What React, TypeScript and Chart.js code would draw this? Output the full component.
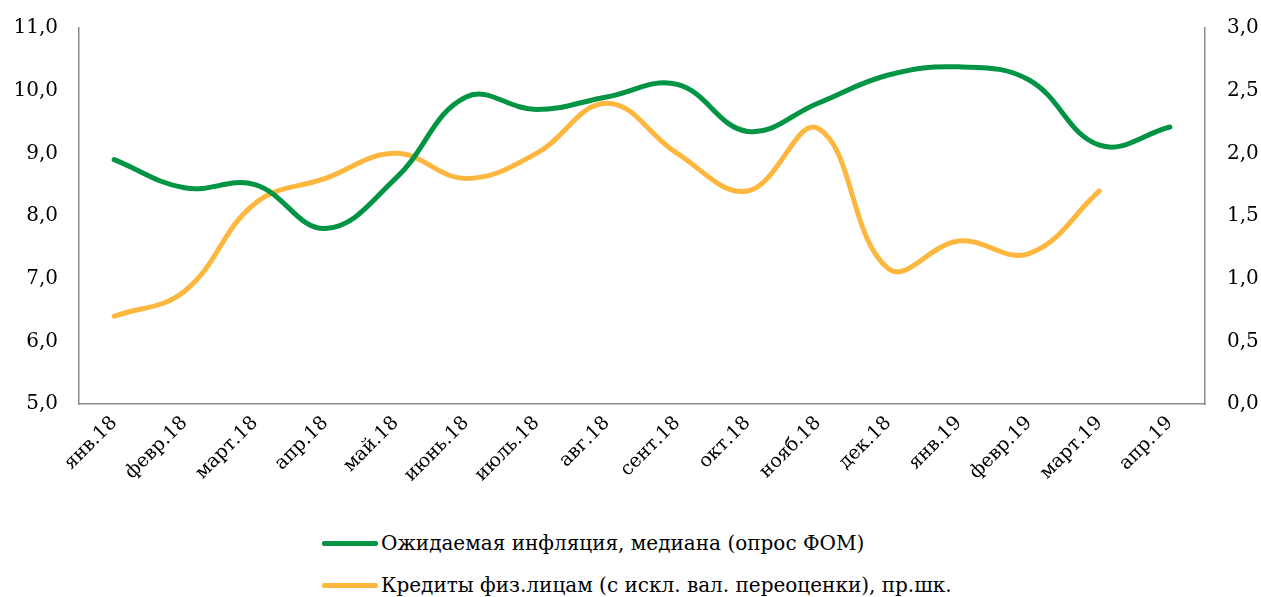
import React, { useEffect, useRef } from "react";
import { Chart, registerables } from "chart.js";

Chart.register(...registerables);

const categories = [
  "янв.18", "февр.18", "март.18", "апр.18", "май.18", "июнь.18", "июль.18", "авг.18",
  "сент.18", "окт.18", "нояб.18", "дек.18", "янв.19", "февр.19", "март.19", "апр.19",
];
const inflationExpect = [8.9, 8.45, 8.5, 7.8, 8.6, 9.9, 9.7, 9.9, 10.1, 9.35, 9.8, 10.25, 10.38, 10.17, 9.13, 9.42];
const loans = [0.7, 0.9, 1.6, 1.8, 2.0, 1.8, 2.0, 2.4, 2.0, 1.7, 2.2, 1.08, 1.3, 1.2, 1.7, null];

const leftTicks = { min: 5, max: 11, step: 1 };
const rightTicks = { min: 0, max: 3, step: 0.5 };

const seriesNames = [
  "Ожидаемая инфляция, медиана (опрос ФОМ)",
  "Кредиты физ.лицам (с искл. вал. переоценки), пр.шк.",
];
const GREEN = "#009444";
const ORANGE = "#FDB73F";
const AXIS = "#8c8c8c";
const FONT = "'DejaVu Serif', serif";

const fmt = (v: number) => Number(v).toFixed(1).replace(".", ",");

export default function App() {
  const ref = useRef<HTMLCanvasElement | null>(null);
  useEffect(() => {
    if (!ref.current) return;
    const chart = new Chart(ref.current, {
      type: "line",
      data: {
        labels: categories,
        datasets: [
          {
            label: seriesNames[0],
            data: inflationExpect,
            borderColor: GREEN,
            backgroundColor: GREEN,
            borderWidth: 5,
            pointRadius: 0,
            tension: 0.4,
            yAxisID: "y",
            borderCapStyle: "round",
          },
          {
            label: seriesNames[1],
            data: loans,
            borderColor: ORANGE,
            backgroundColor: ORANGE,
            borderWidth: 5,
            pointRadius: 0,
            tension: 0.4,
            yAxisID: "y1",
            borderCapStyle: "round",
          },
        ],
      },
      options: {
        animation: false,
        responsive: false,
        maintainAspectRatio: false,
        layout: { padding: { top: 28, left: 0, right: 0, bottom: 0 } },
        plugins: { legend: { display: false }, tooltip: { enabled: false } },
        scales: {
          x: {
            offset: true,
            grid: { display: true, drawOnChartArea: false, drawTicks: false },
            border: { display: true, color: AXIS, width: 1.5 },
            ticks: {
              maxRotation: 45,
              minRotation: 45,
              autoSkip: false,
              padding: 8,
              color: "#000",
              font: { family: FONT, size: 19 },
            },
            afterFit: (s: any) => { s.height = 86; },
          },
          y: {
            position: "left",
            min: leftTicks.min,
            max: leftTicks.max,
            grid: { display: true, drawOnChartArea: false, drawTicks: true, tickLength: 19, tickColor: "rgba(0,0,0,0)" },
            border: { display: true, color: AXIS, width: 1.5 },
            ticks: {
              stepSize: leftTicks.step,
              padding: 2,
              color: "#000",
              font: { family: FONT, size: 20 },
              callback: (v: any) => fmt(v),
            },
            afterFit: (s: any) => { s.width = 79; },
          },
          y1: {
            position: "right",
            min: rightTicks.min,
            max: rightTicks.max,
            grid: { display: true, drawOnChartArea: false, drawTicks: true, tickLength: 20, tickColor: "rgba(0,0,0,0)" },
            border: { display: true, color: AXIS, width: 1.5 },
            ticks: {
              stepSize: rightTicks.step,
              padding: 2,
              color: "#000",
              font: { family: FONT, size: 20 },
              callback: (v: any) => fmt(v),
            },
            afterFit: (s: any) => { s.width = 56; },
          },
        },
      },
    });
    return () => chart.destroy();
  }, []);

  const legendRow = (color: string, text: string, top: number) => (
    <div style={{ position: "absolute", left: 322, top, display: "flex", alignItems: "center", whiteSpace: "nowrap" }}>
      <div style={{ width: 56, height: 5, background: color, borderRadius: 2, marginRight: 3 }} />
      <span style={{ fontFamily: FONT, fontSize: 20, color: "#000", lineHeight: "24px" }}>{text}</span>
    </div>
  );

  return (
    <div style={{ position: "fixed", left: 0, top: 0, width: 1261, height: 597, background: "#fff", overflow: "hidden" }}>
      <canvas ref={ref} width={1261} height={490} style={{ position: "absolute", left: 0, top: 0 }} />
      {legendRow(GREEN, seriesNames[0], 531)}
      {legendRow(ORANGE, seriesNames[1], 573)}
    </div>
  );
}
